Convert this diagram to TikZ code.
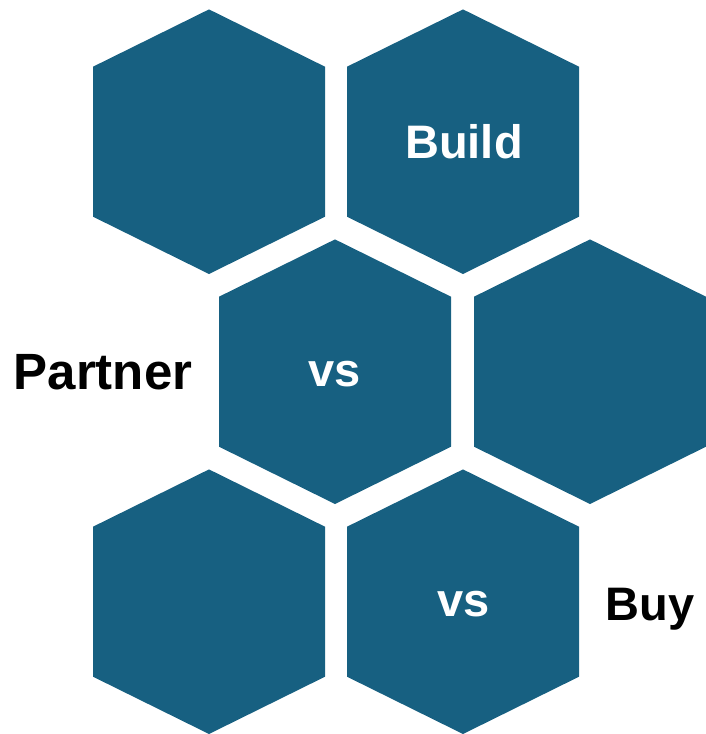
\documentclass[tikz,border=0pt]{standalone}
\usepackage{fontspec}
\setmainfont{Liberation Sans}
\definecolor{hexblue}{RGB}{23,96,129}
\tikzset{
    hexlabel/.style={text=white, anchor=base, inner sep=0pt, font=\fontsize{47}{50}\selectfont\bfseries},
    sidelabel/.style={text=black, anchor=base, inner sep=0pt, font=\fontsize{47}{50}\selectfont\bfseries}
}
\begin{document}
\begin{tikzpicture}[x=1pt,y=-1pt]
    \useasboundingbox (0,0) rectangle (705,734);
    \foreach \cx/\cy in {209/141.7, 463/141.7, 335/371.7, 590/371.7, 209/601.7, 463/601.7}
        \fill[hexblue] (\cx,\cy-132.3) -- (\cx+116,\cy-75) -- (\cx+116,\cy+75)
            -- (\cx,\cy+132.3) -- (\cx-116,\cy+75) -- (\cx-116,\cy-75) -- cycle;
    \node[hexlabel] (build) at (464,158) {Build};
    \node[hexlabel] (vsmid) at (335,386) {vs};
    \node[hexlabel] (vslow) at (464,616) {vs};
    \node[sidelabel, font=\fontsize{51}{54}\selectfont\bfseries] (partner) at (103,389) {Partner};
    \node[sidelabel] (buy) at (650,620) {Buy};
\end{tikzpicture}
\end{document}
